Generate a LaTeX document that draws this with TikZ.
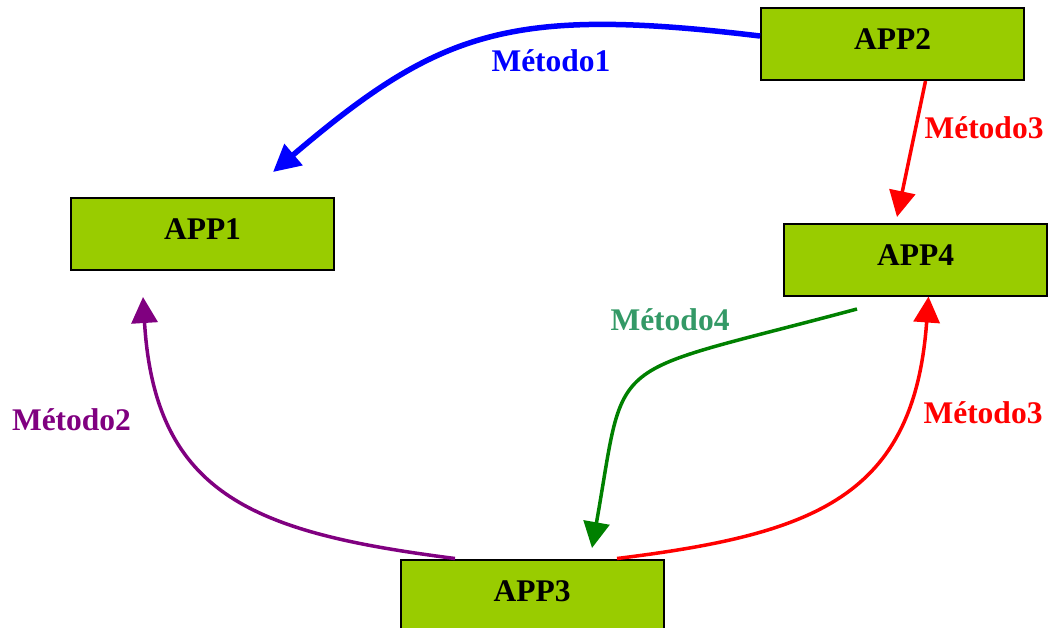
\documentclass[tikz,border=0pt]{standalone}
\usepackage{fontspec}
\setmainfont{Liberation Serif}
\usetikzlibrary{arrows.meta,calc}
\definecolor{boxgreen}{HTML}{99CC00}
\definecolor{labelgreen}{HTML}{339966}
\definecolor{arrowgreen}{HTML}{008000}
\definecolor{methpurple}{HTML}{800080}
\begin{document}
\begin{tikzpicture}[x=1pt,y=-1pt,
  appbox/.style={draw=black, line width=2pt, fill=boxgreen,
    minimum width=263pt, minimum height=72pt, inner sep=0pt,
    text height=20pt, text depth=9pt,
    font=\fontsize{31.5}{36}\selectfont\bfseries},
  methlabel/.style={font=\fontsize{31.5}{36}\selectfont\bfseries,
    anchor=base, inner sep=0pt},
  conn/.style={line width=3.5pt, -{Triangle[length=26pt,width=26pt]}},
  thickconn/.style={line width=5.5pt, -{Triangle[length=27pt,width=27pt]}},
]
\useasboundingbox (0,0) rectangle (1048,627);

% application boxes
\node[appbox] (app2) at (892.5,44) {APP2};
\node[appbox] (app1) at (202.5,234) {APP1};
\node[appbox] (app4) at (915.5,259.5) {APP4};
\node[appbox] (app3) at (532,595.5) {APP3};

% free ends of the connectors
\coordinate (m1tip) at (273,172);
\coordinate (m3tip) at (897,217);
\coordinate (m2tip) at (143,297);
\coordinate (m4start) at (857,309);
\coordinate (m4tip) at (592,548);

% connectors
\draw[thickconn, blue] ($(app2.west)+(0,-8)$)
  .. controls (510,6) and (440,30) .. (m1tip);
\draw[conn, red] ($(app2.south)+(33,0)$) -- (m3tip);
\draw[conn, methpurple] ($(app3.north)+(-77,0)$)
  .. controls (257,533) and (155,497) .. (m2tip);
\draw[conn, red] ($(app3.north)+(85,0)$)
  .. controls (815,534) and (914,497) .. ($(app4.south)+(13,0)$);
\draw[conn, arrowgreen] (m4start)
  .. controls (600,378) and (627,350) .. (m4tip);

% method labels
\node[methlabel, blue] (lab1) at (551,71) {Método1};
\node[methlabel, red] (lab3a) at (984,138) {Método3};
\node[methlabel, methpurple] (lab2) at (71.5,430) {Método2};
\node[methlabel, labelgreen] (lab4) at (670,330) {Método4};
\node[methlabel, red] (lab3b) at (983,423) {Método3};
\end{tikzpicture}
\end{document}
